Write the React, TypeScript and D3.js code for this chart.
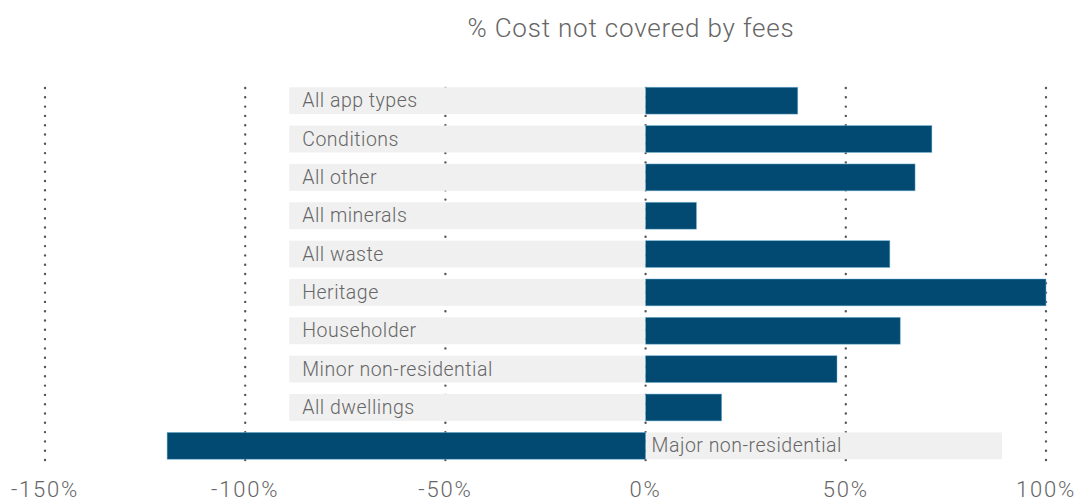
import React from "react";
import * as d3 from "d3";

const categories = [
  "All app types",
  "Conditions",
  "All other",
  "All minerals",
  "All waste",
  "Heritage",
  "Householder",
  "Minor non-residential",
  "All dwellings",
  "Major non-residential",
];
const values = [38, 71.5, 67.3, 12.7, 61, 100, 63.6, 47.8, 19, -119.5];
const labelBoxSpan = 89; // label background extends this far on the opposite side
const tickValues = [-150, -100, -50, 0, 50, 100];
const title = "% Cost not covered by fees";

const W = 1075;
const H = 497;

export default function App() {
  const x = d3.scaleLinear().domain([-150, 100]).range([45, 1046]);
  const y = d3
    .scaleBand<string>()
    .domain(categories)
    .range([81.5, 465])
    .paddingInner(0.3)
    .paddingOuter(0.15);
  const fmt = (v: number) => `${v}%`;
  const font = "Roboto, 'Helvetica Neue', Arial, sans-serif";
  const x0 = x(0);
  return (
    <svg
      width={W}
      height={H}
      style={{ position: "absolute", left: 0, top: 0, background: "#fff" }}
    >
      <text
        x={631}
        y={36.5}
        textAnchor="middle"
        fontFamily={font}
        fontWeight={300}
        fontSize={26}
        letterSpacing={0.8}
        fill="#666"
      >
        {title}
      </text>
      {tickValues.map((t) => (
        <line
          key={"g" + t}
          x1={x(t)}
          x2={x(t)}
          y1={88}
          y2={464}
          stroke="#555"
          strokeWidth={2.4}
          strokeLinecap="round"
          strokeDasharray="0 9.3"
        />
      ))}
      {categories.map((c, i) => {
        const v = values[i];
        const yy = y(c)!;
        const bw = y.bandwidth();
        const boxEnd = v >= 0 ? x(-labelBoxSpan) : x(labelBoxSpan);
        const bx = Math.min(boxEnd, x0);
        const bwidth = Math.abs(boxEnd - x0);
        const barX = Math.min(x(v), x0);
        const barW = Math.abs(x(v) - x0);
        const tx = v >= 0 ? x(-labelBoxSpan) + 13 : x0 + 6;
        return (
          <g key={c}>
            <rect x={bx} y={yy} width={bwidth} height={bw} fill="#f0f0f0" />
            <rect
              x={barX}
              y={yy}
              width={barW}
              height={bw}
              fill="#024a72"
              stroke="#6fb3d9"
              strokeWidth={0.7}
              strokeOpacity={0.7}
            />
            <text
              x={tx}
              y={yy + bw / 2 + 6.5}
              fontFamily={font}
              fontWeight={300}
              fontSize={19.5}
              letterSpacing={0.5}
              fill="#666"
            >
              {c}
            </text>
          </g>
        );
      })}
      {tickValues.map((t) => (
        <text
          key={"t" + t}
          x={x(t)}
          y={497}
          textAnchor="middle"
          fontFamily={font}
          fontWeight={300}
          fontSize={22}
          letterSpacing={1.8}
          fill="#666"
        >
          {fmt(t)}
        </text>
      ))}
    </svg>
  );
}
